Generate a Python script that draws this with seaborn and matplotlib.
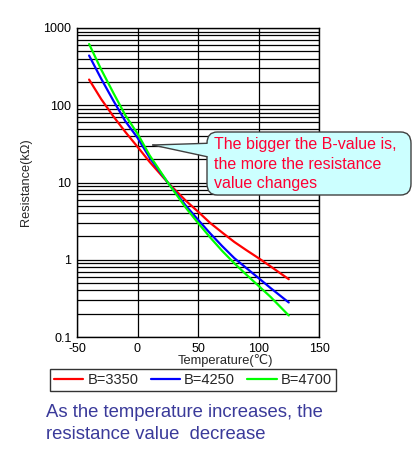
import matplotlib
matplotlib.use("Agg")
import matplotlib.pyplot as plt
import seaborn as sns
import pandas as pd
import numpy as np
from matplotlib.patches import FancyBboxPatch, Polygon
from matplotlib.lines import Line2D
from matplotlib.ticker import LogLocator, NullFormatter

# ---- data ----
temps = [-40, -30, -20, -10, 0, 10, 25, 40, 50, 60, 70, 80, 90, 100, 110, 125]
r_3350 = [215, 120, 72, 45, 29, 18.5, 10, 5.8, 4.2, 3.0, 2.25, 1.7, 1.33, 1.05, 0.82, 0.56]
r_4250 = [440, 220, 115, 62, 38, 21, 10, 5.0, 3.3, 2.2, 1.5, 1.05, 0.78, 0.58, 0.43, 0.28]
r_4700 = [620, 290, 145, 74, 43, 22.5, 10, 4.7, 3.0, 1.95, 1.3, 0.9, 0.64, 0.46, 0.33, 0.19]
series_names = ["B=3350", "B=4250", "B=4700"]
series_colors = ["#ff0000", "#0000ff", "#00ff00"]
x_ticks = [-50, 0, 50, 100, 150]
y_ticks = [0.1, 1, 10, 100, 1000]
y_tick_labels = ["0.1", "1", "10", "100", "1000"]
callout_text = "The bigger the B-value is,\nthe more the resistance\nvalue changes"
caption = "As the temperature increases, the\nresistance value  decrease"

df = pd.concat([
    pd.DataFrame({"T": temps, "R": vals, "B": name})
    for name, vals in zip(series_names, [r_3350, r_4250, r_4700])
])

sns.set_style("white")
plt.rcParams['font.family'] = ['Liberation Sans', 'DejaVu Sans']

W, H = 412, 455
fig = plt.figure(figsize=(W / 100, H / 100), dpi=100)
fig.patch.set_facecolor("white")

def fx(x):
    return x / W

def fy(y):
    return 1 - y / H

ax = fig.add_axes([fx(77), fy(337), fx(319) - fx(77), fy(28) - fy(337)])

sns.lineplot(data=df, x="T", y="R", hue="B", palette=dict(zip(series_names, series_colors)),
             linewidth=1.6, ax=ax, legend=False)

ax.set_yscale("log")
ax.set_xlim(-50, 150)
ax.set_ylim(0.1, 1000)
ax.set_xticks(x_ticks)
ax.set_xticklabels([str(t) for t in x_ticks])
ax.set_yticks(y_ticks)
ax.set_yticklabels(y_tick_labels)
ax.yaxis.set_minor_locator(LogLocator(base=10, subs=np.arange(2, 10)))
ax.yaxis.set_minor_formatter(NullFormatter())
ax.grid(True, which="major", color="black", linewidth=0.9)
ax.grid(True, which="minor", axis="y", color="black", linewidth=0.9)
ax.tick_params(axis="both", which="both", length=0, labelsize=9, colors="black", pad=4)
for s in ax.spines.values():
    s.set_color("black")
    s.set_linewidth(1.0)
ax.set_xlabel("Temperature(℃)", fontsize=9.3, labelpad=0)
ax.xaxis.set_label_coords((225 - 77) / 242, -0.055)
ax.set_ylabel("Resistance(kΩ)", fontsize=9.2, labelpad=8)

# legend box
handles = [Line2D([0], [0], color=c, linewidth=1.6) for c in series_colors]
leg = fig.legend(handles, series_names, loc="center", ncol=3,
                 bbox_to_anchor=(fx(43), fy(392), fx(343) - fx(43), fy(368) - fy(392)),
                 mode="expand", frameon=True, fancybox=False, fontsize=10.5,
                 handlelength=2.0, handletextpad=0.3, borderpad=0.25, columnspacing=1.0)
leg.get_frame().set_edgecolor("black")
leg.get_frame().set_linewidth(1.0)

# callout
box = FancyBboxPatch((fx(207), fy(195)), fx(411) - fx(207), fy(132) - fy(195),
                     boxstyle="round,pad=0,rounding_size=0.025",
                     transform=fig.transFigure, facecolor="#ccffff",
                     edgecolor="#404040", linewidth=1.0, zorder=10)
fig.add_artist(box)
tail = Polygon([(fx(152.7), fy(145)), (fx(209), fy(143.3)), (fx(209), fy(156.7))],
               closed=True, transform=fig.transFigure, facecolor="#ccffff",
               edgecolor="none", zorder=11)
fig.add_artist(tail)
fig.add_artist(Line2D([fx(152.7), fx(207)], [fy(145), fy(143.3)], transform=fig.transFigure,
                      color="#404040", linewidth=1.0, zorder=12))
fig.add_artist(Line2D([fx(152.7), fx(207)], [fy(145), fy(156.7)], transform=fig.transFigure,
                      color="#404040", linewidth=1.0, zorder=12))
fig.text(fx(214), fy(137.5), callout_text, color="#ff0033", fontsize=11.5,
         va="top", ha="left", linespacing=1.34, zorder=13)

# caption
fig.text(fx(46), fy(404), caption, color="#3a3a9a", fontsize=13.3,
         va="top", ha="left", linespacing=1.38)

fig.savefig("out.png", dpi=100, facecolor="white")
